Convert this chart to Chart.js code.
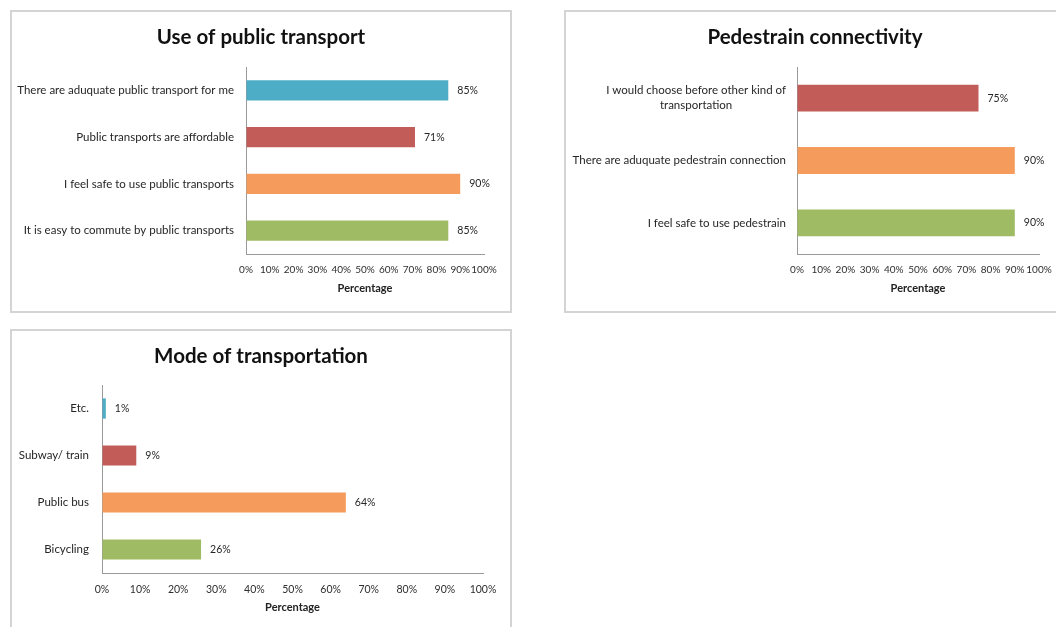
<!DOCTYPE html>
<html>
<head>
<meta charset="utf-8">
<title>Transport survey</title>
<script src="https://cdn.jsdelivr.net/npm/chart.js@4.4.0/dist/chart.umd.min.js"></script>
<style>
  body { margin: 0; background: #fff; width: 1056px; height: 627px; overflow: hidden; position: relative; }
  .box { position: absolute; border: 2px solid #d4d4d4; background: #fff; }
  .box canvas { display: block; }
</style>
</head>
<body>
<div class="box" style="left:10px;top:10px;"><canvas id="transitChart" width="498" height="299"></canvas></div>
<div class="box" style="left:564px;top:10px;"><canvas id="walkChart" width="498" height="299"></canvas></div>
<div class="box" style="left:10px;top:329px;"><canvas id="modeChart" width="498" height="299"></canvas></div>

<script>
// ---------- data ----------
const transitLabels = [
  "There are aduquate public transport for me",
  "Public transports are affordable",
  "I feel safe to use public transports",
  "It is easy to commute by public transports"
];
const transitValues = [85, 71, 90, 85];

const walkLabels = [
  ["I would choose before other kind of", "transportation"],
  "There are aduquate pedestrain connection",
  "I feel safe to use pedestrain"
];
const walkValues = [75, 90, 90];

const modeLabels = ["Etc.", "Subway/ train", "Public bus", "Bicycling"];
const modeValues = [1, 9, 64, 26];

// ---------- colours ----------
const TEAL = "#4dadc6", RED = "#c25c59", ORANGE = "#f59c5c", GREEN = "#9fbc65";

Chart.defaults.font.family = "Lato, 'Open Sans', sans-serif";
Chart.defaults.color = "#333";

// category labels, right aligned; multi-line labels centred on their widest line
const yLabels = {
  id: "yLabels",
  afterDraw(chart, args, opts) {
    const ctx = chart.ctx;
    const y = chart.scales.y;
    ctx.save();
    ctx.font = opts.size + "px Lato, 'Open Sans', sans-serif";
    ctx.fillStyle = "#262626";
    ctx.textAlign = "center";
    ctx.textBaseline = "middle";
    chart.data.labels.forEach((lab, i) => {
      const lines = Array.isArray(lab) ? lab : [lab];
      const w = Math.max(...lines.map(l => ctx.measureText(l).width));
      const cx = chart.chartArea.left - opts.gap - w / 2;
      const cy = y.getPixelForValue(i);
      lines.forEach((l, k) => {
        ctx.fillText(l, cx, cy + (k - (lines.length - 1) / 2) * opts.lineHeight);
      });
    });
    ctx.restore();
  }
};

// value labels to the right of each bar
const valueLabels = {
  id: "valueLabels",
  afterDatasetsDraw(chart) {
    const ctx = chart.ctx;
    const ds = chart.data.datasets[0];
    ctx.save();
    ctx.font = "10.5px Lato, 'Open Sans', sans-serif";
    ctx.fillStyle = "#262626";
    ctx.textAlign = "left";
    ctx.textBaseline = "middle";
    chart.getDatasetMeta(0).data.forEach((bar, i) => {
      ctx.fillText(ds.data[i] + "%", bar.x + 9, bar.y);
    });
    ctx.restore();
  }
};

function makeChart(id, title, labels, values, colors, o) {
  return new Chart(document.getElementById(id), {
    type: "bar",
    data: {
      labels: labels,
      datasets: [{
        data: values,
        backgroundColor: colors,
        barPercentage: 0.43,
        categoryPercentage: 1
      }]
    },
    plugins: [yLabels, valueLabels],
    options: {
      indexAxis: "y",
      responsive: false,
      animation: false,
      // equal side padding keeps the title centred in the box
      layout: { padding: { left: o.side, right: o.side, top: 0, bottom: 0 } },
      plugins: {
        legend: { display: false },
        tooltip: { enabled: false },
        title: {
          display: true,
          text: title,
          color: "#111",
          font: { size: 20.5, weight: "bold" },
          padding: { top: 12.7, bottom: o.titleGap }
        },
        yLabels: { size: 11.5, gap: o.labelGap, lineHeight: 15 }
      },
      scales: {
        y: {
          ticks: { display: false },
          grid: { display: false },
          border: { color: "#9a9a9a" },
          afterFit: s => { s.width = o.plotLeft - o.side; }
        },
        x: {
          min: 0,
          max: 100,
          ticks: {
            stepSize: 10,
            autoSkip: false,
            maxRotation: 0,
            minRotation: 0,
            padding: 10,
            color: "#2e2e2e",
            font: { size: o.tickSize },
            callback: v => v + "%"
          },
          grid: { display: true, drawOnChartArea: false, drawTicks: false },
          border: { color: "#9a9a9a" },
          title: {
            display: true,
            text: "Percentage",
            color: "#222",
            font: { size: 11, weight: "bold" },
            padding: { top: 0, bottom: 16 }
          },
          afterFit: s => { s.height = 57; }
        }
      }
    }
  });
}

makeChart("transitChart", "Use of public transport", transitLabels, transitValues,
  [TEAL, RED, ORANGE, GREEN],
  { plotLeft: 234, side: 26, titleGap: 17.7, labelGap: 12, tickSize: 10 });

makeChart("walkChart", "Pedestrain connectivity", walkLabels, walkValues,
  [RED, ORANGE, GREEN],
  { plotLeft: 231, side: 25, titleGap: 17.7, labelGap: 11, tickSize: 10 });

makeChart("modeChart", "Mode of transportation", modeLabels, modeValues,
  [TEAL, RED, ORANGE, GREEN],
  { plotLeft: 90, side: 27, titleGap: 16.7, labelGap: 13, tickSize: 10.5 });
</script>
</body>
</html>
